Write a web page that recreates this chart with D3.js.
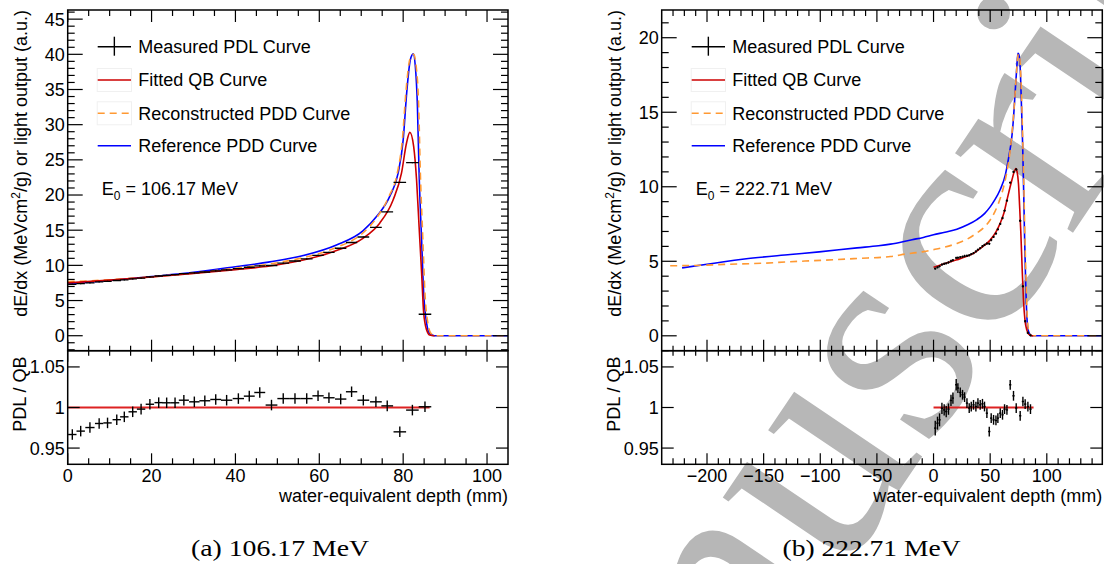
<meta charset="UTF-8">
<!-- Load d3.js -->
<script src="https://d3js.org/d3.v7.min.js"></script>
<style>
  body { margin: 0; background: #fff; }
  text { font-family: "Liberation Sans", Arial, sans-serif; }
</style>
<div id="my_dataviz"></div>
<script>

// ---------- data ----------
// (a) 106.17 MeV : curves as [depth mm, dE/dx]
var leftRefPDD = [[0,7.35],[10,7.85],[20,8.4],[30,9.0],[40,9.8],[48.2,10.5],[56.2,11.4],[64.1,12.9],[70.4,14.9],[73.6,16.9],[76.8,19.8],[78.8,23.1],[80.0,27.8],[80.9,34.95],[81.7,39.2],[82.4,40.07],[82.9,38.3],[83.4,32.6],[83.8,23.1],[84.4,13.6],[84.9,6.0],[85.6,1.76],[86.3,0.34],[87.4,0],[105,0]];
var leftRecPDD = [[0,7.68],[10,7.95],[20,8.38],[30,8.9],[40,9.6],[48.2,10.2],[56.2,11.1],[64.1,12.55],[70.4,14.6],[73.6,16.7],[76.6,19.8],[78.6,23.1],[79.8,27.8],[80.7,34.95],[81.6,39.3],[82.5,40.0],[83.1,38.3],[83.7,32.6],[84.1,23.1],[84.7,13.6],[85.2,6.0],[85.9,1.76],[86.6,0.34],[87.7,0],[105,0]];
var leftQB = [[0,7.5],[10,7.9],[20,8.35],[30,8.85],[40,9.4],[48.2,9.9],[56.2,10.75],[64.1,12.1],[70.4,13.85],[74.4,16.0],[77.6,19.3],[79.6,23.1],[80.8,27.4],[81.6,28.9],[82.5,26.9],[83.2,22.1],[83.8,15.5],[84.4,8.9],[84.9,3.2],[85.6,0.8],[86.3,0.1],[87.5,0]];
var leftMeasX = [1.1,3.1,5.3,7.5,9.5,11.7,13.5,15.5,17.5,19.6,21.7,23.6,25.6,27.7,30.2,32.7,35.3,37.9,40.7,43.3,45.8,48.6,51.4,54.2,57.0,59.7,62.3,65.1,67.7,70.5,73.5,76.2,79.2,82.2,85.2];
var leftMeasXErr = [1,1,1.1,1,1,1,1,1,1,1,1,1,1,1.2,1.25,1.3,1.3,1.35,1.35,1.3,1.3,1.4,1.4,1.4,1.4,1.35,1.35,1.35,1.35,1.4,1.4,1.4,1.5,1.5,1.5];
var leftMeasY = [7.29,7.40,7.52,7.65,7.73,7.85,7.95,8.08,8.20,8.36,8.49,8.58,8.68,8.82,8.92,9.06,9.21,9.35,9.54,9.73,9.93,9.98,10.31,10.62,10.92,11.41,11.84,12.43,13.25,14.03,15.41,17.6,21.8,24.6,3.05];
var leftRatio = [0.9667,0.9709,0.9753,0.9803,0.981,0.985,0.9885,0.9947,0.998,1.004,1.006,1.0058,1.0058,1.009,1.007,1.0083,1.0099,1.009,1.011,1.014,1.0185,1.003,1.011,1.011,1.011,1.0144,1.012,1.0104,1.0194,1.009,1.007,1.002,0.970,0.9968,1.0009];
var leftRatioErr = 0.0065;
var leftRatioLine = [0, 86.3];

// (b) 222.71 MeV
var rightRefPDD = [[-222,4.56],[-200,4.8],[-185,4.97],[-167,5.15],[-126.5,5.45],[-101,5.63],[-67.6,5.9],[-48.6,6.04],[-38,6.15],[-19,6.45],[-9,6.6],[0,6.78],[10,6.95],[20.6,7.15],[30,7.45],[38.3,7.8],[45,8.2],[50,8.65],[53.5,9.05],[58.8,9.8],[63.4,10.8],[66.2,11.9],[69.2,13.4],[70.6,14.6],[72.1,16.4],[73.5,18.0],[74.5,18.95],[75.2,18.9],[76.5,18.0],[77.6,15.5],[78.6,13.0],[79.5,10.0],[80.3,6.9],[81.3,3.7],[82.4,1.3],[83.5,0.4],[85.3,0.09],[87,0],[149,0]];
var rightRecPDD = [[-232.5,4.70],[-200,4.74],[-185,4.79],[-150,4.87],[-126.5,4.97],[-100,5.06],[-67.6,5.19],[-38,5.32],[-23.5,5.5],[-8.8,5.65],[0,5.78],[10,5.95],[20.6,6.2],[30,6.5],[38.3,6.9],[45,7.3],[50,7.77],[54,8.3],[57.4,8.9],[60.5,9.6],[63.3,10.45],[65.7,11.4],[67.7,12.46],[69.5,13.8],[71.2,15.37],[72.5,16.8],[73.6,18.05],[74.7,18.85],[75.4,18.9],[76.5,18.3],[77.6,16.3],[78.6,13.6],[79.6,10.5],[80.5,7.3],[81.6,3.9],[82.6,1.5],[83.8,0.4],[85.5,0.08],[87.2,0],[149,0]];
var rightQB = [[0,4.6],[1.5,4.63],[10,4.85],[20.6,5.1],[30,5.35],[35.3,5.53],[42,5.9],[50,6.42],[55,6.95],[58.8,7.54],[62,8.2],[64.8,9.1],[67,9.8],[69.2,10.45],[71,10.95],[72.7,11.23],[73.8,11.0],[75,10.2],[76,8.7],[77.1,6.87],[78.2,4.6],[79.4,2.4],[80.8,1.0],[82.4,0.38],[84,0.1],[86,0.02],[88,0]];
var rightMeasX = [1.5,3.5,5.3,7.4,9.4,11.2,13.2,15.4,17.1,20.0,21.5,23.6,25.6,27.4,29.5,31.5,33.3,35.3,37.4,39.2,41.2,43.2,45.0,47.1,49.2,50.9,53.0,55.1,56.8,58.9,60.9,62.7,64.8,67.7,70.6,73.0,76.5,78.9,80.9,83.3,85.6];
var rightMeasY = [4.51,4.59,4.66,4.78,4.83,4.86,4.92,5.02,5.08,5.23,5.24,5.28,5.31,5.35,5.37,5.40,5.48,5.55,5.66,5.78,5.88,6.01,6.10,6.19,6.18,6.43,6.64,6.86,7.14,7.51,7.90,8.40,9.07,10.28,11.0,11.16,7.72,3.32,0.98,0.2,0.03];
var rightRatio = [0.9746,0.9807,0.9848,0.999,0.997,0.995,0.998,1.0087,1.0116,1.028,1.024,1.0185,1.0157,1.0128,1.0054,0.9993,1.0012,1.0033,1.0012,1.0054,1.0033,1.0046,1.0012,0.993,0.9704,0.9869,0.9848,0.984,0.9869,0.993,0.991,0.998,0.997,1.028,1.0144,0.9993,0.9898,1.0074,1.0042,1.0012,0.998];
var rightRatioErr = [0.009,0.008,0.008,0.007,0.007,0.007,0.007,0.007,0.007,0.007,0.006,0.006,0.006,0.006,0.006,0.006,0.006,0.006,0.006,0.006,0.006,0.006,0.006,0.006,0.006,0.006,0.006,0.006,0.006,0.006,0.006,0.006,0.006,0.006,0.006,0.006,0.006,0.006,0.006,0.006,0.006];
var rightRatioLine = [0, 88.3];

// axes / tick labels
var leftXTicks = [0,20,40,60,80,100];
var leftYTicks = [0,5,10,15,20,25,30,35,40,45];
var rightXTicks = [-200,-150,-100,-50,0,50,100];
var rightYTicks = [0,5,10,15,20];
var ratioTicks = [0.95,1,1.05];
var legendLabels = ["Measured PDL Curve","Fitted QB Curve","Reconstructed PDD Curve","Reference PDD Curve"];

var svg = d3.select("#my_dataviz")
  .append("svg")
    .attr("width", 1104)
    .attr("height", 564)

// watermark, behind everything
svg.append("text")
    .attr("transform", "translate(540,1023) rotate(-56)")
    .style("font-family", "'Liberation Serif', serif")
    .style("font-size", "310px")
    .attr("fill", "#b7b7b7")
    .text("manuscript")

var topY0 = 10, sepY = 350.7, botY1 = 464.3;

function fmt(v) { return (v < 0 ? "\u2212" : "") + Math.abs(v); }

function drawPanel(p) {
  var g = svg.append("g");
  var x = d3.scaleLinear().domain(p.xDom).range([p.left, p.right]);
  var y = d3.scaleLinear().domain(p.yDom).range([sepY, topY0]);
  var yr = d3.scaleLinear().domain([0.93, 1.07]).range([botY1, sepY]);

  var clipId = "clip" + p.id;
  svg.append("clipPath").attr("id", clipId).append("rect")
      .attr("x", p.left).attr("y", topY0).attr("width", p.right - p.left).attr("height", sepY - topY0);

  var line = d3.line()
      .x(function(d) { return x(d[0]); })
      .y(function(d) { return y(d[1]); })
      .curve(d3.curveMonotoneX);

  var curves = g.append("g").attr("clip-path", "url(#" + clipId + ")");
  curves.append("path").datum(p.ref).attr("d", line)
      .attr("fill", "none").attr("stroke", "#0000ff").attr("stroke-width", 1.6);
  curves.append("path").datum(p.rec).attr("d", line)
      .attr("fill", "none").attr("stroke", "#ff9933").attr("stroke-width", 1.6).attr("stroke-dasharray", "7,5");
  curves.append("path").datum(p.qb).attr("d", line)
      .attr("fill", "none").attr("stroke", "#cc0000").attr("stroke-width", 1.6);

  // measured points (top)
  var meas = p.measX.map(function(v, i) { return {x: v, y: p.measY[i], xe: p.measXErr[i], r: p.ratio[i], re: p.ratioErr[i]}; });
  curves.append("g").selectAll("line").data(meas).join("line")
      .attr("x1", function(d) { return x(d.x - d.xe); })
      .attr("x2", function(d) { return x(d.x + d.xe); })
      .attr("y1", function(d) { return y(d.y); })
      .attr("y2", function(d) { return y(d.y); })
      .attr("stroke", "#000").attr("stroke-width", 1.3);
  curves.append("g").selectAll("line").data(meas).join("line")
      .attr("x1", function(d) { return x(d.x); })
      .attr("x2", function(d) { return x(d.x); })
      .attr("y1", function(d) { return y(d.y) - p.measDot; })
      .attr("y2", function(d) { return y(d.y) + p.measDot; })
      .attr("stroke", "#000").attr("stroke-width", 1.3);

  // ratio panel
  g.append("line")
      .attr("x1", x(p.ratioLine[0])).attr("x2", x(p.ratioLine[1]))
      .attr("y1", yr(1)).attr("y2", yr(1))
      .attr("stroke", "#dd2222").attr("stroke-width", 2);
  g.append("g").selectAll("line").data(meas).join("line")
      .attr("x1", function(d) { return x(d.x - d.xe); })
      .attr("x2", function(d) { return x(d.x + d.xe); })
      .attr("y1", function(d) { return yr(d.r); })
      .attr("y2", function(d) { return yr(d.r); })
      .attr("stroke", "#000").attr("stroke-width", 1.4);
  g.append("g").selectAll("line").data(meas).join("line")
      .attr("x1", function(d) { return x(d.x); })
      .attr("x2", function(d) { return x(d.x); })
      .attr("y1", function(d) { return yr(d.r - d.re); })
      .attr("y2", function(d) { return yr(d.r + d.re); })
      .attr("stroke", "#000").attr("stroke-width", 1.4);

  // frames
  var ax = g.append("g").attr("stroke", "#000").attr("fill", "none");
  ax.append("rect").attr("x", p.left).attr("y", topY0).attr("width", p.right - p.left).attr("height", sepY - topY0).attr("stroke-width", 1.5);
  ax.append("rect").attr("x", p.left).attr("y", sepY).attr("width", p.right - p.left).attr("height", botY1 - sepY).attr("stroke-width", 1.5);

  function xTicks(vals, y0, len) {
    ax.append("g").selectAll("line").data(vals).join("line")
        .attr("x1", function(d) { return x(d); }).attr("x2", function(d) { return x(d); })
        .attr("y1", y0).attr("y2", y0 + len).attr("stroke-width", 1.2);
  }
  function yTicks(sc, vals, x0, len) {
    ax.append("g").selectAll("line").data(vals).join("line")
        .attr("y1", function(d) { return sc(d); }).attr("y2", function(d) { return sc(d); })
        .attr("x1", x0).attr("x2", x0 + len).attr("stroke-width", 1.2);
  }
  var xMinor = d3.range(p.xDom[0], p.xDom[1], p.xMinorStep).map(function(v) { return Math.ceil(v / p.xMinorStep) * p.xMinorStep; })
      .filter(function(v) { return v > p.xDom[0] && v < p.xDom[1] && p.xTicks.indexOf(v) < 0; });
  var yMinor = d3.range(Math.ceil(p.yDom[0]), p.yDom[1], 1).filter(function(v) { return p.yTicks.indexOf(v) < 0; });

  // top panel
  xTicks(p.xTicks, sepY, -11); xTicks(xMinor, sepY, -5);
  xTicks(p.xTicks, topY0, 12); xTicks(xMinor, topY0, 6);
  yTicks(y, p.yTicks, p.left, 15); yTicks(y, yMinor, p.left, 7);
  yTicks(y, p.yTicks, p.right, -15); yTicks(y, yMinor, p.right, -7);
  // ratio panel
  xTicks(p.xTicks, botY1, -11); xTicks(xMinor, botY1, -6);
  xTicks(p.xTicks, sepY, 11); xTicks(xMinor, sepY, 5);
  yTicks(yr, ratioTicks, p.left, 12); yTicks(yr, ratioTicks, p.right, -12);

  // labels
  var lab = g.append("g").style("font-size", "18px").attr("fill", "#000");
  lab.selectAll("text.yl").data(p.yTicks).join("text")
      .attr("x", p.left - 3).attr("y", function(d) { return y(d); }).attr("dy", "0.36em")
      .attr("text-anchor", "end").text(function(d) { return d; });
  lab.selectAll("text.rl").data(ratioTicks).join("text")
      .attr("x", p.left - 3).attr("y", function(d) { return yr(d); }).attr("dy", "0.36em")
      .attr("text-anchor", "end").text(function(d) { return d; });
  lab.selectAll("text.xl").data(p.xTicks).join("text")
      .attr("x", function(d) { return x(d); }).attr("y", 481.5)
      .attr("text-anchor", "middle").text(fmt);
  lab.append("text").attr("x", p.right).attr("y", 501.5).attr("text-anchor", "end")
      .text("water-equivalent depth (mm)");

  var yt = lab.append("text")
      .attr("transform", "translate(" + (p.left - 40.5) + "," + topY0 + ") rotate(-90)")
      .attr("text-anchor", "end");
  yt.append("tspan").text("dE/dx (MeVcm");
  yt.append("tspan").attr("dy", -7).style("font-size", "12px").text("2");
  yt.append("tspan").attr("dy", 7).text("/g) or light output (a.u.)");
  lab.append("text")
      .attr("transform", "translate(" + (p.left - 42) + ",356.5) rotate(-90)")
      .attr("text-anchor", "end").text("PDL / QB");

  // legend
  var lx = p.left + 30, lx2 = p.left + 63.3, ly = [46.7, 80, 113.3, 145.7];
  var lg = g.append("g");
  [1, 2].forEach(function(i) {
    lg.append("rect").attr("x", lx - 0.5).attr("y", ly[i] - 11.5).attr("width", lx2 - lx + 1).attr("height", 23)
        .attr("fill", "none").attr("stroke", "#f0f0f0").attr("stroke-width", 1);
  });
  lg.append("line").attr("x1", lx).attr("x2", lx2).attr("y1", ly[0]).attr("y2", ly[0]).attr("stroke", "#000").attr("stroke-width", 1.4);
  lg.append("line").attr("x1", (lx + lx2) / 2).attr("x2", (lx + lx2) / 2).attr("y1", ly[0] - 10).attr("y2", ly[0] + 9).attr("stroke", "#000").attr("stroke-width", 1.4);
  lg.append("line").attr("x1", lx).attr("x2", lx2).attr("y1", ly[1]).attr("y2", ly[1]).attr("stroke", "#cc0000").attr("stroke-width", 1.6);
  lg.append("line").attr("x1", lx).attr("x2", lx2).attr("y1", ly[2]).attr("y2", ly[2]).attr("stroke", "#ff9933").attr("stroke-width", 1.6).attr("stroke-dasharray", "7,5");
  lg.append("line").attr("x1", lx).attr("x2", lx2).attr("y1", ly[3]).attr("y2", ly[3]).attr("stroke", "#0000ff").attr("stroke-width", 1.6);
  lg.selectAll("text").data(legendLabels).join("text")
      .attr("x", p.left + 70.6).attr("y", function(d, i) { return ly[i]; }).attr("dy", "0.36em")
      .style("font-size", "18px").text(function(d) { return d; });

  var e0 = g.append("text").attr("x", p.left + 34).attr("y", 194.5).style("font-size", "18px");
  e0.append("tspan").text("E");
  e0.append("tspan").attr("dy", 5).style("font-size", "12px").text("0");
  e0.append("tspan").attr("dy", -5).text(" = " + p.energy + " MeV");

  // caption
  g.append("text").attr("x", p.capX).attr("y", 556)
      .attr("text-anchor", "middle")
      .attr("textLength", 178).attr("lengthAdjust", "spacingAndGlyphs")
      .style("font-family", "'Liberation Serif', serif").style("font-size", "24px")
      .text(p.caption);
}

drawPanel({
  id: "a", left: 67.7, right: 508, xDom: [0, 105], yDom: [-2.13, 46.3],
  xTicks: leftXTicks, xMinorStep: 5, yTicks: leftYTicks,
  ref: leftRefPDD, rec: leftRecPDD, qb: leftQB,
  measX: leftMeasX, measY: leftMeasY, measXErr: leftMeasXErr, measDot: 0.6,
  ratio: leftRatio, ratioErr: leftMeasX.map(function() { return leftRatioErr; }),
  ratioLine: leftRatioLine, energy: "106.17", caption: "(a) 106.17 MeV", capX: 280
});
drawPanel({
  id: "b", left: 661.7, right: 1102.3, xDom: [-240, 149], yDom: [-1.0, 21.86],
  xTicks: rightXTicks, xMinorStep: 10, yTicks: rightYTicks,
  ref: rightRefPDD, rec: rightRecPDD, qb: rightQB,
  measX: rightMeasX, measY: rightMeasY, measXErr: rightMeasX.map(function() { return 1.0; }), measDot: 1.2,
  ratio: rightRatio, ratioErr: rightRatioErr,
  ratioLine: rightRatioLine, energy: "222.71", caption: "(b) 222.71 MeV", capX: 871.5
});
</script>
